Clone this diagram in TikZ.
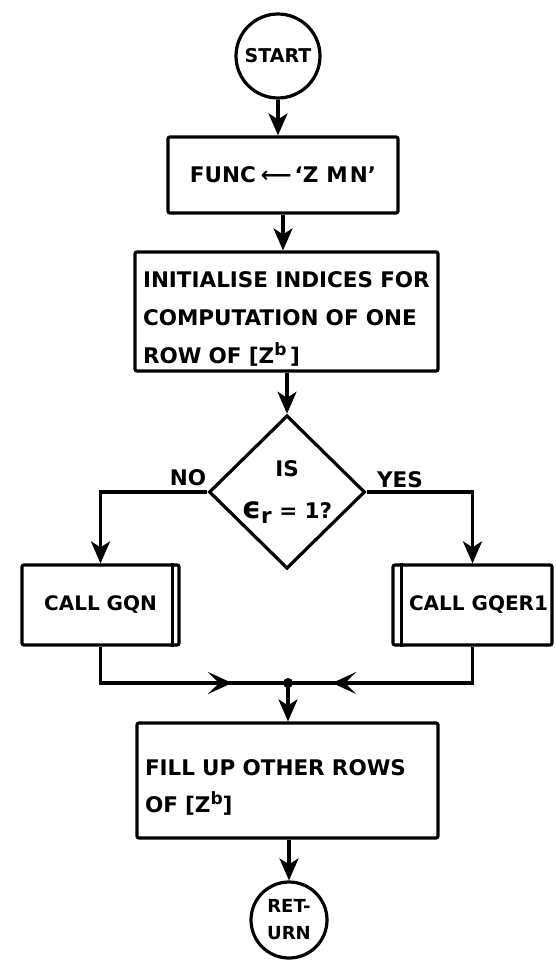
\documentclass[tikz,border=0pt]{standalone}
\usepackage{fontspec}
\setmainfont{DejaVu Sans}
\usetikzlibrary{shapes.geometric, arrows.meta, decorations.markings}

% raised exponent used in the matrix name [Z^b]
\newcommand{\supb}{\raisebox{8pt}{\fontsize{17}{17}\selectfont b}}
% taller first line, pushes a text block slightly down inside its box
\newcommand{\firstline}{\rule{0pt}{30pt}}

\begin{document}
\begin{tikzpicture}[x=1pt, y=-1pt,
  every node/.style={font=\bfseries\fontsize{21.5}{26}\selectfont},
  line/.style={line width=3.2pt},
  box/.style={draw, line width=3.2pt, rounded corners=2pt, inner sep=0pt},
  term/.style={draw, circle, line width=3.2pt, inner sep=0pt, align=center},
  callbox/.style={box, minimum height=80pt, font=\bfseries\fontsize{20}{24}\selectfont},
  flow/.style={line width=3.2pt, -{Stealth[length=22pt,width=19pt,inset=6pt]}},
  midarrow/.style={line width=3.2pt, postaction=decorate,
    decoration={markings, mark=at position #1 with {\arrow{Stealth[length=24pt,width=22pt,inset=11pt]}}}},
]
\useasboundingbox (0,0) rectangle (556,960);

% terminals
\node[term, minimum size=84pt, font=\bfseries\fontsize{19}{24}\selectfont] (startnode) at (278,56) {START};
\node[term, minimum size=76pt, font=\bfseries\fontsize{18}{27}\selectfont] (retnode) at (289,920) {RET-\\URN};

% process boxes
\node[box, minimum width=230pt, minimum height=76pt] (funcbox) at (283,175)
      {FUNC\hspace{5pt}⟵\hspace{3pt}‘Z\hspace{8pt}M\hspace{2pt}N’\hspace{-6pt}};
\node[box, minimum width=303pt, minimum height=119pt, inner xsep=8pt, text width=287pt, align=left,
      font=\bfseries\fontsize{21.5}{38}\selectfont] (initbox) at (286.5,311.5)
      {\firstline INITIALISE INDICES FOR\\COMPUTATION OF ONE\\ROW OF [Z\supb\,]};
\node[box, minimum width=301pt, minimum height=115pt, inner xsep=8pt, text width=285pt, align=left,
      font=\bfseries\fontsize{21.5}{37}\selectfont] (fillbox) at (287.5,780.5)
      {\firstline FILL UP OTHER ROWS\\OF [Z\supb]};

% decision
\node[draw, diamond, line width=3.2pt, minimum width=156pt, minimum height=152pt, inner sep=0pt,
      align=center, font=\bfseries\fontsize{21.5}{42}\selectfont] (decide) at (287,492)
      {IS\\{\fontsize{30}{30}\selectfont ϵ}\raisebox{-5pt}{r} = 1?};
\node (nolabel) at (188,478) {NO};
\node (yeslabel) at (400,480) {YES};

% predefined-process boxes (subroutine calls)
\node[callbox, minimum width=157pt] (gqn) at (100.5,605) {CALL GQN\hspace{8pt}};
\node[callbox, minimum width=159pt] (gqer) at (472.5,605) {\hspace{12pt}CALL GQER1};
\draw[line] ([xshift=-8pt]gqn.north east) -- ([xshift=-8pt]gqn.south east);
\draw[line] ([xshift=10pt]gqer.north west) -- ([xshift=10pt]gqer.south west);

% junction
\node[circle, fill, inner sep=0pt, minimum size=10pt] (junc) at (288,683) {};

% connectors
\draw[flow] (startnode) -- (funcbox.north -| startnode);
\draw[flow] (funcbox.south) -- (funcbox.south |- initbox.north);
\draw[flow] (initbox.south -| decide.north) -- (decide.north);
\draw[flow] (decide.west) -| (gqn.north);
\draw[flow] (decide.east) -| (gqer.north);
\draw[midarrow=0.75] (gqn.south) |- (junc.center);
\draw[midarrow=0.80] (gqer.south) |- (junc.center);
\draw[flow] (junc.center) -- (fillbox.north -| junc);
\draw[flow] (fillbox.south -| retnode) -- (retnode);
\end{tikzpicture}
\end{document}
